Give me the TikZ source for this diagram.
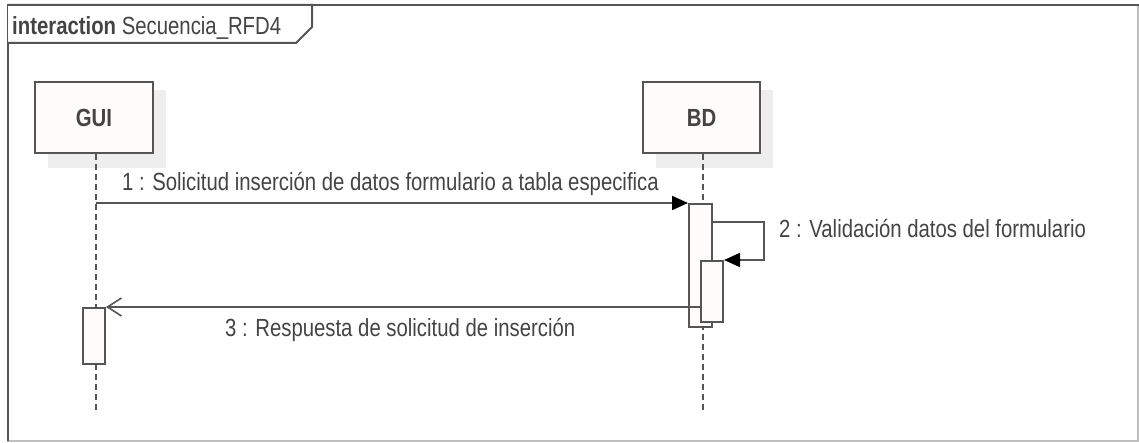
\documentclass[tikz,border=0pt]{standalone}
\usepackage{fontspec}
\setmainfont{Liberation Sans}[FakeStretch=0.82]
\usetikzlibrary{arrows.meta,calc}
\definecolor{ln}{HTML}{555555}
\definecolor{tx}{HTML}{444444}
\definecolor{shd}{HTML}{EEEEEE}
\definecolor{fil}{HTML}{FDFCFA}
\begin{document}
\begin{tikzpicture}[x=1pt,y=-1pt,
  every node/.style={text=tx,font=\fontsize{24.8}{28}\selectfont},
  head/.style={draw=ln,line width=2.2pt,fill=fil,minimum width=118pt,minimum height=71pt,inner sep=0pt,font=\fontsize{24.8}{28}\selectfont\bfseries},
  act/.style={draw=ln,line width=2pt,fill=fil,inner sep=0pt},
  lifeline/.style={draw=ln,line width=1.6pt,dash pattern=on 6pt off 4pt},
  msg/.style={draw=ln,line width=2pt},
  filltip/.style={-{Triangle[length=16pt,width=14pt,color=black]}},
  lbl/.style={anchor=base west,inner sep=0pt}]
\useasboundingbox (0,0) rectangle (1139,443);
% frame
\draw[color=black!25,line width=2pt] (8,5) rectangle (1138,441);
\draw[ln,line width=2pt] (8,441) -- (8,5) -- (1139,5);
\draw[ln,line width=2pt,fill=white] (8,5) -- (312,5) -- (312,27) -- (296,43) -- (8,43);
\node[lbl] (title) at (12,35) {\textbf{interaction} Secuencia\_RFD4};
% shadows
\fill[shd] (48,90) rectangle (166,168);
\fill[shd] (656,90) rectangle (773,168);
% heads
\node[head] (gui) at (94,117.5) {GUI};
\node[head,minimum width=117pt] (bd) at (701.5,117.5) {BD};
\coordinate (guiend) at (96,410);
\coordinate (bdend) at (703,410);
\draw[lifeline] (gui.south -| guiend) -- (guiend);
\draw[lifeline] (bd.south -| bdend) -- (bdend);
% activations
\node[act,minimum width=23pt,minimum height=123pt] (act1) at (700.5,265.5) {};
\node[act,minimum width=22pt,minimum height=61pt] (act2) at (712,291.5) {};
\node[act,minimum width=22pt,minimum height=56pt] (gact) at (94,336) {};
% message 1
\draw[msg,filltip] (guiend |- act1.north west) -- (act1.north west);
\node[lbl] (m1) at (122,191) {1 : Solicitud inserción de datos formulario a tabla especifica};
% message 2 (self)
\coordinate (s1) at (764,222);
\draw[msg,filltip] (act1.east |- s1) -- (s1) |- (act2.north east);
\node[lbl] (m2) at (779,238) {2 : Validación datos del formulario};
% message 3
\draw[msg,-{Straight Barb[length=14pt,width=18pt,line width=1.6pt]}] (act2.west |- gact.north east) -- (gact.north east);
\node[lbl] (m3) at (225,336) {3 : Respuesta de solicitud de inserción};
\end{tikzpicture}
\end{document}
